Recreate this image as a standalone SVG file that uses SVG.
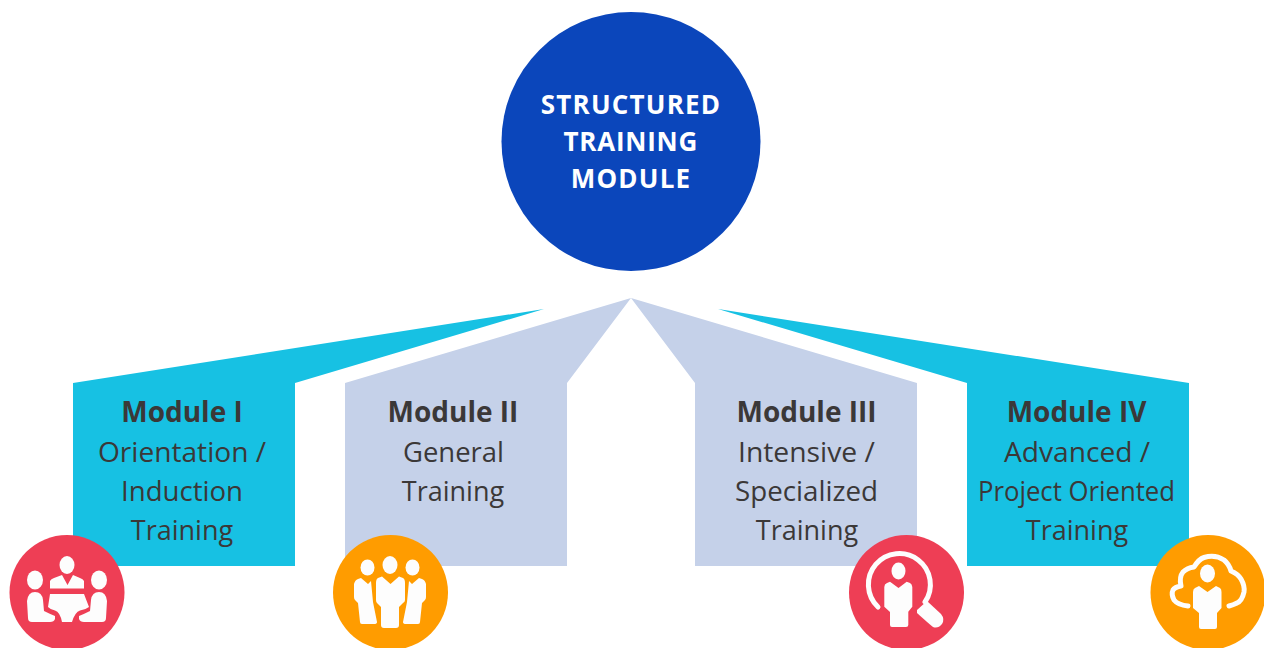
<svg xmlns="http://www.w3.org/2000/svg" width="1264" height="648" viewBox="0 0 1264 648">
<style>
.t{font-family:"Open Sans","Liberation Sans",sans-serif;font-size:27px;fill:#3b3838;text-anchor:middle}
.b{font-weight:700;font-size:28px}
.h{font-family:"Open Sans","Liberation Sans",sans-serif;font-size:26px;font-weight:700;fill:#fff;text-anchor:middle;letter-spacing:1.2px}
.cy{fill:#17c1e3}.bl{fill:#c5d1e9}.rd{fill:#ee3e55}.or{fill:#ff9c00}.w{fill:#fdfdfd}
.wl{fill:none;stroke:#fdfdfd;stroke-width:5;stroke-linecap:round;stroke-linejoin:round}
</style>
<g id="hub">
<circle cx="631" cy="141.500" r="129.500" fill="#0b46bb"/>
<text class="h" x="631" y="114">STRUCTURED</text>
<text class="h" x="631" y="151" textLength="135">TRAINING</text>
<text class="h" x="631" y="188">MODULE</text>
</g>
<g id="module-1">
<path class="cy" d="M73 383L544 309L295 383V566H73Z"/>
<text class="t b" x="182" y="422">Module I</text>
<text class="t" x="182" y="462" textLength="168" lengthAdjust="spacingAndGlyphs">Orientation /</text>
<text class="t" x="182" y="501" textLength="122" lengthAdjust="spacingAndGlyphs">Induction</text>
<text class="t" x="182" y="540">Training</text>
</g>
<g id="module-2">
<path class="bl" d="M345 383L631 298L567 383V566H345Z"/>
<text class="t b" x="453" y="422">Module II</text>
<text class="t" x="453.500" y="462" textLength="101" lengthAdjust="spacingAndGlyphs">General</text>
<text class="t" x="453" y="501">Training</text>
</g>
<g id="module-3">
<path class="bl" d="M917 383L631 298L695 383V566H917Z"/>
<text class="t b" x="806.500" y="422">Module III</text>
<text class="t" x="806.500" y="462" textLength="137" lengthAdjust="spacingAndGlyphs">Intensive /</text>
<text class="t" x="806.500" y="501" textLength="143" lengthAdjust="spacingAndGlyphs">Specialized</text>
<text class="t" x="807" y="540">Training</text>
</g>
<g id="module-4">
<path class="cy" d="M1189 383L718 309L967 383V566H1189Z"/>
<text class="t b" x="1076.500" y="422">Module IV</text>
<text class="t" x="1077" y="462" textLength="146" lengthAdjust="spacingAndGlyphs">Advanced /</text>
<text class="t" x="1076.500" y="501" textLength="197" lengthAdjust="spacingAndGlyphs">Project Oriented</text>
<text class="t" x="1077" y="540">Training</text>
</g>
<g id="icon-1">
<circle class="rd" cx="67" cy="592.500" r="57.500"/>
<ellipse class="w" cx="67" cy="565" rx="7.500" ry="9"/>
<ellipse class="w" cx="35" cy="580" rx="8" ry="9.500"/>
<ellipse class="w" cx="99" cy="580" rx="8" ry="9.500"/>
<path class="w" d="M50 588.500V581Q51 579 54 578L62 575L67.500 585L73 575L80 578Q83 579 84 581V588.500Z"/>
<path class="w" d="M50 594H84L89 607Q85 610 80 610.500Q75 612 72 622H62Q60 612 55 610.500Q51 610 48 607Z"/>
<path class="w" d="M27 601Q28 592 35 592Q42 592 43 600L44 611Q50 614 55 616V619Q54 622 50 622H32Q28 622 28 618Z"/>
<path class="w" d="M107 601Q106 592 99 592Q92 592 91 600L90 611Q84 614 79 616V619Q80 622 84 622H102Q106 622 106 618Z"/>
</g>
<g id="icon-2">
<circle class="or" cx="390.500" cy="592.500" r="57.500"/>
<ellipse class="w" cx="367.500" cy="567.500" rx="7" ry="8"/>
<ellipse class="w" cx="390" cy="565" rx="7.500" ry="9"/>
<ellipse class="w" cx="412.500" cy="567.500" rx="7" ry="8"/>
<path class="w" d="M361 578L368 584L371 581L373 602L377 622Q377 624 374 624H362Q360 624 360 622L358 603L355 600Q354 599 354 597V584Q355 580 358 579Z"/>
<path class="w" d="M419 578L412 584L409 581L407 602L403 622Q403 624 406 624H418Q420 624 420 622L422 603L425 600Q426 599 426 597V584Q425 580 422 579Z"/>
<path class="w" d="M382 576.500L390.500 584L399 576.500L403 578Q405 579 405 583V600Q405 602 403 603L399 607V625Q399 628 396 628H384Q381 628 381 625V607L377 603Q376 602 376 600V583Q376 579 378 578Z"/>
</g>
<g id="icon-3">
<circle class="rd" cx="906.500" cy="592.500" r="57.500"/>
<path class="wl" d="M878 607A31 31 0 1 1 925 602" stroke-linecap="butt"/>
<ellipse class="w" cx="898.500" cy="571" rx="7" ry="8.500"/>
<path class="w" d="M890 581.700L898.500 588L906.700 581.700L910 583Q912 584 912.300 587V606.700L908.300 611.700V625Q908.300 627 906 627H892Q890 627 890 625V612L884.300 606.700V587Q884.300 584 887 583Z"/>
<path class="w" d="M917 610L927 601L941 614Q945 619 942 624Q938 629 933 627Q928 623 917 613Z"/>
</g>
<g id="icon-4">
<circle class="or" cx="1208" cy="592.500" r="57.500"/>
<ellipse class="w" cx="1207.500" cy="573.500" rx="7.500" ry="9"/>
<path class="w" d="M1199 586L1207.500 592L1216 586L1220 588Q1221.500 589 1221.500 592V608L1217 613V627Q1217 629 1215 629H1201Q1199 629 1199 627V613L1193 608V592Q1193 589 1195 588Z"/>
<path class="wl" d="M1188 606Q1178 605 1174 600Q1171 594 1173 590Q1175 587 1181 586Q1179 577 1183 572Q1187 568 1194 567Q1199 559 1204 557.500Q1215 554 1224 560Q1229 564 1231 571Q1238 574 1241 579Q1245 586 1244 592Q1242 601 1237 603Q1233 605 1229 606"/>
</g>
</svg>
